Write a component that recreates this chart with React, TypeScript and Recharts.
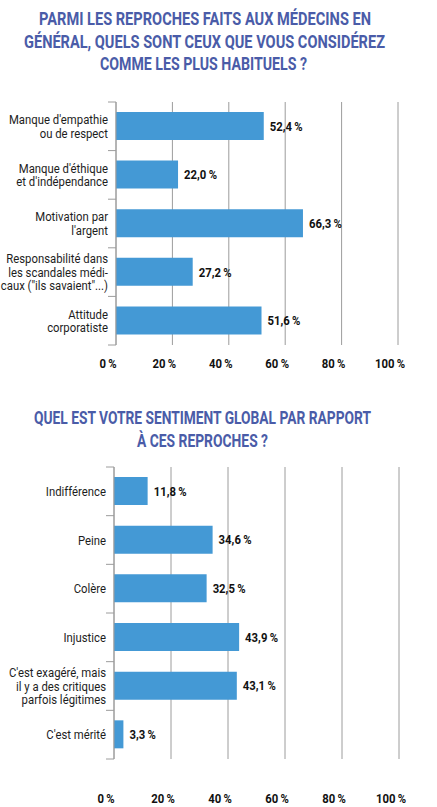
import React from "react";
import { BarChart, Bar, XAxis, YAxis, CartesianGrid, LabelList } from "recharts";

const categories1 = [
  "Manque d'empathie\nou de respect",
  "Manque d'éthique\net d'indépendance",
  "Motivation par\nl'argent",
  "Responsabilité dans\nles scandales médi-\ncaux (\"ils savaient\"...)",
  "Attitude\ncorporatiste",
];
const values1 = [52.4, 22.0, 66.3, 27.2, 51.6];

const categories2 = [
  "Indifférence",
  "Peine",
  "Colère",
  "Injustice",
  "C'est exagéré, mais\nil y a des critiques\nparfois légitimes",
  "C'est mérité",
];
const values2 = [11.8, 34.6, 32.5, 43.9, 43.1, 3.3];

const xTicks = [0, 20, 40, 60, 80, 100];

const title1 = [
  "PARMI LES REPROCHES FAITS AUX MÉDECINS EN",
  "GÉNÉRAL, QUELS SONT CEUX QUE VOUS CONSIDÉREZ",
  "COMME LES PLUS HABITUELS ?",
];
const title2 = ["QUEL EST VOTRE SENTIMENT GLOBAL PAR RAPPORT", "À CES REPROCHES ?"];

const FONT = "Roboto, 'Liberation Sans', sans-serif";
const BAR = "#4499d5";
const GRID = "#9c9c9c";
const TITLE = "#4a5ca8";
const SX = 0.84;

const fmt = (v: number) => v.toFixed(1).replace(".", ",") + "\u2009%";

function NText({ x, y, anchor, bold, size, fill, children }: any) {
  return (
    <text
      transform={`translate(${x},${y}) scale(${SX},1)`}
      x={0}
      y={0}
      textAnchor={anchor}
      fontFamily={FONT}
      fontWeight={bold ? 700 : 400}
      fontSize={size}
      fill={fill}
    >
      {children}
    </text>
  );
}

function makeYTick(axisX: number, band: number, count: number) {
  return (props: any) => {
    const { y, payload, index } = props;
    const lines = String(payload.value).split("\n");
    const lh = 13.3;
    const n = lines.length;
    return (
      <g>
        <line x1={axisX - 8} x2={axisX} y1={y - band / 2} y2={y - band / 2} stroke={GRID} strokeWidth={1} />
        {index === count - 1 && (
          <line x1={axisX - 8} x2={axisX} y1={y + band / 2} y2={y + band / 2} stroke={GRID} strokeWidth={1} />
        )}
        {lines.map((l, i) => (
          <NText key={i} x={axisX - 8} y={y + (i - (n - 1) / 2) * lh + 4.6} anchor="end" size={13.5} fill="#1d1d1d">
            {l}
          </NText>
        ))}
      </g>
    );
  };
}

function makeXTick(dy: number) {
  return (props: any) => {
    const { x, y, payload } = props;
    return (
      <NText x={x - 8} y={y + dy} anchor="middle" bold size={13.5} fill="#111">
        {payload.value + "\u2009%"}
      </NText>
    );
  };
}

function ValueLabel(props: any) {
  const { x, y, width, height, value } = props;
  return (
    <NText x={x + width + 6} y={y + height / 2 + 4.8} anchor="start" bold size={13.5} fill="#111">
      {fmt(Number(value))}
    </NText>
  );
}

type ChartProps = {
  cats: string[];
  vals: number[];
  top: number;
  height: number;
  plotTop: number;
  plotBottom: number;
  axisX: number;
  right: number;
  tickDy: number;
};

function HBar({ cats, vals, top, height, plotTop, plotBottom, axisX, right, tickDy }: ChartProps) {
  const data = cats.map((c, i) => ({ name: c, value: vals[i] }));
  const band = (plotBottom - plotTop) / cats.length;
  return (
    <div style={{ position: "absolute", left: 0, top }}>
      <BarChart
        width={437}
        height={height}
        data={data}
        layout="vertical"
        margin={{ top: plotTop, right, bottom: 0, left: 0 }}
        barCategoryGap={0}
      >
        <CartesianGrid horizontal={false} vertical={true} stroke={GRID} />
        <XAxis
          type="number"
          domain={[0, 100]}
          ticks={xTicks}
          axisLine={false}
          tickLine={false}
          height={height - plotBottom}
          tick={makeXTick(tickDy)}
          interval={0}
        />
        <YAxis
          type="category"
          dataKey="name"
          width={axisX}
          axisLine={{ stroke: GRID }}
          tickLine={false}
          tick={makeYTick(axisX, band, cats.length)}
          interval={0}
        />
        <Bar dataKey="value" fill={BAR} barSize={28} isAnimationActive={false}>
          <LabelList dataKey="value" content={ValueLabel} />
        </Bar>
      </BarChart>
    </div>
  );
}

function Titles() {
  const t1 = [
    { x: 39, len: 332, y: 25 },
    { x: 24, len: 361, y: 48 },
    { x: 100, len: 207, y: 70 },
  ];
  const t2 = [
    { x: 34, len: 337, y: 424 },
    { x: 137, len: 131, y: 447 },
  ];
  return (
    <svg width={437} height={807} style={{ position: "absolute", left: 0, top: 0, pointerEvents: "none" }}>
      {title1.map((t, i) => (
        <text
          key={"a" + i}
          x={t1[i].x}
          y={t1[i].y}
          textLength={t1[i].len}
          lengthAdjust="spacingAndGlyphs"
          fontFamily={FONT}
          fontWeight={700}
          fontSize={18}
          fill={TITLE}
        >
          {t}
        </text>
      ))}
      {title2.map((t, i) => (
        <text
          key={"b" + i}
          x={t2[i].x}
          y={t2[i].y}
          textLength={t2[i].len}
          lengthAdjust="spacingAndGlyphs"
          fontFamily={FONT}
          fontWeight={700}
          fontSize={19}
          fill={TITLE}
        >
          {t}
        </text>
      ))}
    </svg>
  );
}

export default function App() {
  return (
    <div style={{ position: "absolute", left: 0, top: 0, width: 437, height: 807, background: "#fff", overflow: "hidden" }}>
      <HBar
        cats={categories1}
        vals={values1}
        top={0}
        height={380}
        plotTop={102}
        plotBottom={345}
        axisX={116}
        right={39}
        tickDy={15}
      />
      <HBar
        cats={categories2}
        vals={values2}
        top={380}
        height={427}
        plotTop={87}
        plotBottom={379}
        axisX={114}
        right={38}
        tickDy={36}
      />
      <Titles />
    </div>
  );
}
